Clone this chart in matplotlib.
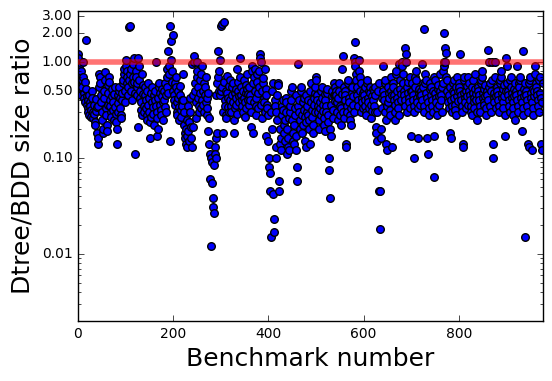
import numpy as np
import matplotlib
matplotlib.use("Agg")
import matplotlib.pyplot as plt
from matplotlib.ticker import FixedLocator, FormatStrFormatter, LogLocator, NullFormatter

# size ratio per benchmark (20 benchmarks per row)
ratio = [
    1.2, 1.1, 0.9, 0.75, 0.6, 0.5, 0.45, 0.8, 0.65, 0.55, 1.0, 0.7, 0.48, 0.42, 0.38, 0.62, 1.7, 0.52, 0.44, 0.36,
    0.4, 0.33, 0.3, 0.28, 0.45, 0.38, 0.35, 0.32, 0.27, 0.5, 0.42, 0.3, 0.26, 0.36, 0.29, 0.24, 0.22, 0.31, 0.41, 0.34,
    0.18, 0.14, 0.16, 0.35, 0.55, 0.75, 0.7, 0.6, 0.45, 0.38, 0.3, 0.25, 0.18, 0.2, 0.42, 0.5, 0.65, 0.78, 0.33, 0.28,
    0.22, 0.19, 0.36, 0.48, 0.58, 0.7, 0.62, 0.4, 0.35, 0.3, 0.27, 0.44, 0.52, 0.38, 0.32, 0.25, 0.46, 0.55, 0.34, 0.29,
    0.24, 0.14, 0.2, 0.3, 0.37, 0.45, 0.5, 0.55, 0.42, 0.33, 0.28, 0.26, 0.4, 0.48, 0.6, 0.65, 0.75, 0.85, 0.5, 0.38,
    0.9, 1.05, 0.8, 0.7, 0.6, 0.55, 0.45, 0.65, 2.3, 2.4, 0.75, 0.85, 0.5, 0.4, 0.6, 0.7, 0.95, 1.1, 0.62, 0.48,
    0.11, 0.8, 0.7, 0.55, 0.45, 0.6, 0.21, 1.1, 0.9, 0.65, 0.5, 0.42, 0.38, 0.32, 0.28, 0.75, 0.58, 0.47, 0.35, 0.3,
    0.55, 0.45, 0.4, 0.33, 0.28, 0.25, 0.5, 0.6, 0.36, 0.42, 0.3, 0.24, 0.16, 0.27, 0.48, 0.55, 0.38, 0.34, 0.29, 0.22,
    0.45, 0.5, 0.4, 1.0, 0.35, 0.3, 0.26, 0.17, 0.2, 0.42, 0.55, 0.6, 0.48, 0.36, 0.32, 0.28, 0.52, 0.44, 0.38, 0.25,
    0.4, 0.5, 0.6, 0.34, 0.3, 0.45, 0.55, 0.7, 0.85, 0.48, 1.3, 0.9, 0.75, 0.15, 2.4, 1.65, 1.05, 0.8, 0.62, 1.9,
    0.5, 0.45, 0.4, 0.36, 0.6, 0.7, 0.55, 0.3, 0.28, 0.38, 0.5, 0.42, 0.34, 0.25, 0.45, 0.56, 0.32, 0.27, 0.4, 0.35,
    0.75, 0.4, 0.3, 0.22, 0.18, 0.16, 0.2, 0.14, 0.13, 0.17, 0.25, 0.35, 0.19, 0.15, 0.24, 0.3, 0.42, 0.21, 0.16, 0.13,
    0.95, 0.45, 0.21, 1.0, 1.15, 0.5, 0.6, 0.38, 0.26, 0.7, 0.8, 1.0, 0.55, 0.42, 0.35, 0.3, 0.65, 0.48, 0.33, 0.75,
    0.9, 0.4, 0.36, 0.5, 0.6, 0.3, 0.45, 0.55, 0.7, 0.38, 0.28, 0.33, 0.42, 0.48, 0.19, 0.26, 0.14, 0.11, 0.06, 0.012,
    0.1, 0.09, 0.055, 0.038, 0.031, 0.027, 0.085, 0.13, 0.11, 0.1, 0.16, 0.45, 0.6, 0.18, 0.7, 1.3, 0.8, 0.5, 1.05, 0.45,
    0.5, 2.4, 0.55, 2.5, 0.3, 0.18, 2.6, 0.62, 0.4, 0.35, 0.28, 0.26, 0.5, 0.72, 0.48, 0.42, 0.34, 0.3, 0.56, 0.65,
    0.4, 0.35, 0.3, 0.45, 0.55, 0.6, 0.38, 0.25, 0.18, 0.33, 0.48, 0.52, 0.42, 0.36, 0.29, 0.85, 0.62, 0.5, 0.44, 0.38,
    1.1, 0.7, 0.55, 0.45, 0.4, 0.35, 0.3, 0.5, 0.65, 0.42, 0.38, 0.27, 0.33, 0.48, 0.58, 0.75, 0.52, 0.46, 0.4, 0.36,
    0.55, 0.45, 0.4, 0.3, 0.21, 0.9, 0.8, 0.18, 0.6, 0.7, 0.38, 0.85, 0.5, 0.42, 0.35, 0.28, 0.75, 0.62, 0.48, 0.33,
    0.55, 0.8, 1.2, 1.1, 0.36, 1.0, 0.26, 0.5, 0.6, 0.68, 0.42, 0.38, 0.3, 0.85, 0.17, 0.52, 0.45, 0.36, 0.33, 0.28,
    0.15, 0.1, 0.08, 0.07, 0.045, 0.015, 0.3, 0.2, 0.5, 0.6, 0.042, 0.023, 0.017, 0.4, 0.35, 0.13, 0.1, 0.3, 0.25, 0.45,
    0.6, 0.58, 0.045, 0.058, 0.14, 0.2, 0.16, 0.12, 0.35, 0.28, 0.4, 0.32, 0.22, 0.18, 0.15, 0.25, 0.3, 0.42, 0.38, 0.11,
    0.2, 0.16, 0.13, 0.12, 0.26, 0.3, 0.35, 0.4, 0.5, 0.55, 0.25, 0.18, 0.15, 0.14, 0.22, 0.28, 0.33, 0.45, 0.12, 0.17,
    0.058, 0.08, 0.95, 0.35, 0.4, 0.3, 0.25, 0.2, 0.5, 0.55, 0.28, 0.18, 0.22, 0.38, 0.42, 0.32, 0.27, 0.15, 0.13, 0.24,
    0.45, 0.3, 0.35, 0.4, 0.28, 0.25, 0.2, 0.14, 0.5, 0.6, 0.38, 0.32, 0.27, 0.22, 0.18, 0.42, 0.36, 0.3, 0.48, 0.55,
    0.7, 0.65, 0.45, 0.4, 0.35, 0.3, 0.25, 0.2, 0.33, 0.38, 0.28, 0.5, 0.55, 0.42, 0.36, 0.31, 0.26, 0.22, 0.19, 0.46,
    0.4, 0.35, 0.3, 0.48, 0.52, 0.28, 0.24, 0.1, 0.075, 0.038, 0.2, 0.17, 0.36, 0.44, 0.5, 0.32, 0.26, 0.6, 0.45, 0.39,
    0.55, 0.45, 0.5, 0.45, 0.38, 0.3, 0.25, 0.42, 0.5, 0.6, 0.35, 0.28, 0.22, 0.33, 0.47, 0.85, 1.15, 0.3, 0.26, 0.55,
    0.5, 0.45, 0.4, 0.14, 0.13, 0.35, 0.3, 0.6, 0.65, 0.42, 0.38, 0.28, 0.25, 0.22, 0.33, 0.48, 0.55, 0.44, 0.36, 0.3,
    1.1, 1.6, 1.0, 0.9, 0.75, 0.65, 0.55, 0.45, 0.4, 0.35, 1.05, 0.8, 0.7, 0.5, 0.3, 0.6, 0.42, 0.38, 0.48, 0.33,
    0.5, 0.45, 0.55, 0.4, 0.35, 0.3, 0.28, 0.6, 0.65, 0.42, 0.38, 0.33, 0.5, 0.55, 0.48, 0.26, 0.36, 0.44, 0.31, 0.52,
    0.4, 0.35, 0.5, 0.45, 0.3, 0.55, 0.21, 0.18, 0.15, 0.3, 0.5, 0.075, 0.6, 0.045, 0.045, 0.018, 0.2, 0.16, 0.42, 0.33,
    0.9, 0.5, 0.45, 0.4, 0.6, 0.65, 0.3, 0.25, 0.14, 0.12, 0.35, 0.38, 0.55, 0.48, 0.42, 0.32, 0.28, 0.7, 0.5, 0.45,
    0.13, 0.6, 0.55, 0.45, 0.4, 0.36, 0.3, 0.25, 0.75, 0.8, 0.5, 0.42, 0.38, 0.33, 0.28, 0.95, 0.65, 0.52, 0.46, 0.4,
    1.0, 0.9, 0.75, 0.6, 0.5, 0.45, 0.4, 0.35, 1.4, 1.2, 1.0, 0.3, 0.55, 0.62, 0.48, 0.42, 0.38, 0.33, 0.7, 0.5,
    0.17, 0.6, 0.5, 0.45, 0.4, 0.1, 0.35, 0.3, 0.55, 0.7, 0.8, 0.65, 0.42, 0.38, 0.33, 0.16, 0.48, 0.52, 0.44, 0.36,
    0.5, 0.45, 0.4, 0.95, 0.6, 0.55, 0.35, 0.3, 2.2, 0.6, 0.75, 0.65, 0.48, 0.42, 0.16, 0.11, 0.38, 0.33, 0.28, 0.52,
    0.6, 0.55, 0.45, 0.4, 0.35, 0.3, 0.5, 0.063, 0.17, 0.7, 0.65, 0.48, 0.42, 0.38, 0.33, 0.28, 0.52, 0.58, 0.44, 0.36,
    0.75, 0.5, 0.45, 0.4, 0.3, 0.55, 0.6, 0.8, 0.9, 1.0, 2.0, 1.4, 1.0, 1.25, 0.7, 0.65, 0.5, 0.42, 0.38, 0.33,
    0.45, 0.55, 0.18, 0.16, 0.4, 0.35, 0.3, 0.5, 0.6, 0.65, 0.48, 0.42, 0.36, 0.32, 0.28, 0.55, 0.7, 0.44, 0.39, 0.5,
    0.6, 0.55, 0.5, 1.2, 0.45, 0.4, 0.35, 0.3, 0.14, 0.13, 0.65, 0.7, 0.48, 0.42, 0.38, 0.33, 0.5, 0.56, 0.44, 0.36,
    0.7, 0.6, 0.5, 0.45, 0.4, 0.35, 0.3, 0.28, 0.55, 0.65, 0.48, 0.42, 0.38, 0.33, 0.75, 0.52, 0.46, 0.4, 0.3, 0.25,
    0.55, 0.5, 0.45, 0.4, 0.35, 0.3, 0.6, 0.65, 0.7, 0.8, 0.48, 0.42, 0.38, 0.36, 0.52, 0.58, 0.44, 0.33, 0.28, 0.5,
    0.45, 1.35, 0.4, 0.55, 1.0, 0.6, 0.35, 0.3, 0.5, 1.0, 0.65, 0.14, 0.1, 0.48, 0.42, 0.38, 1.0, 0.7, 0.33, 0.44,
    0.55, 0.5, 0.45, 0.4, 0.35, 0.3, 0.6, 0.65, 0.7, 0.8, 0.48, 0.42, 0.38, 0.33, 0.52, 0.58, 0.44, 0.17, 0.28, 0.5,
    1.1, 0.9, 0.6, 0.5, 0.45, 0.4, 0.35, 0.3, 0.65, 0.7, 0.55, 0.48, 0.42, 0.38, 0.33, 0.28, 0.52, 0.44, 0.25, 0.6,
    0.5, 0.45, 0.4, 0.9, 0.35, 0.3, 0.6, 0.55, 0.65, 0.7, 0.48, 0.42, 0.38, 0.19, 0.33, 0.28, 1.3, 0.52, 0.44, 0.6,
    0.015, 0.5, 0.45, 0.4, 0.35, 0.3, 0.14, 0.13, 0.6, 0.65, 0.7, 0.48, 0.42, 0.38, 0.12, 0.33, 0.28, 0.52, 0.44, 0.5,
    0.75, 0.9, 0.6, 0.55, 0.5, 0.45, 0.4, 0.35, 0.3, 0.65, 0.7, 0.48, 0.42, 0.14, 0.38, 0.12, 0.6,
]
benchmark = np.arange(len(ratio))

y_ticks = [0.01, 0.1, 0.5, 1.0, 2.0, 3.0]
x_ticks = [0, 200, 400, 600, 800]

plt.style.use("classic")
plt.rcParams["figure.facecolor"] = "white"

fig = plt.figure(figsize=(5.52, 3.81), dpi=100)
ax = fig.add_axes([0.1413, 0.1575, 0.8424, 0.8135])

ax.scatter(benchmark, ratio, s=30, c="b", edgecolors="k", linewidths=1.0, zorder=2)
ax.axhline(1.0, color="r", linewidth=4, alpha=0.55, zorder=3)

ax.set_yscale("log")
ax.set_ylim(0.002, 3.4)
ax.set_xlim(0, len(ratio))

ax.yaxis.set_major_locator(FixedLocator(y_ticks))
ax.yaxis.set_major_formatter(FormatStrFormatter("%.2f"))
ax.yaxis.set_minor_locator(LogLocator(base=10, subs=np.arange(2, 10)))
ax.yaxis.set_minor_formatter(NullFormatter())
ax.set_xticks(x_ticks)
ax.tick_params(labelsize=10)

ax.set_xlabel("Benchmark number", fontsize=18)
ax.set_ylabel("Dtree/BDD size ratio", fontsize=18)

fig.savefig("out.png", dpi=100)
